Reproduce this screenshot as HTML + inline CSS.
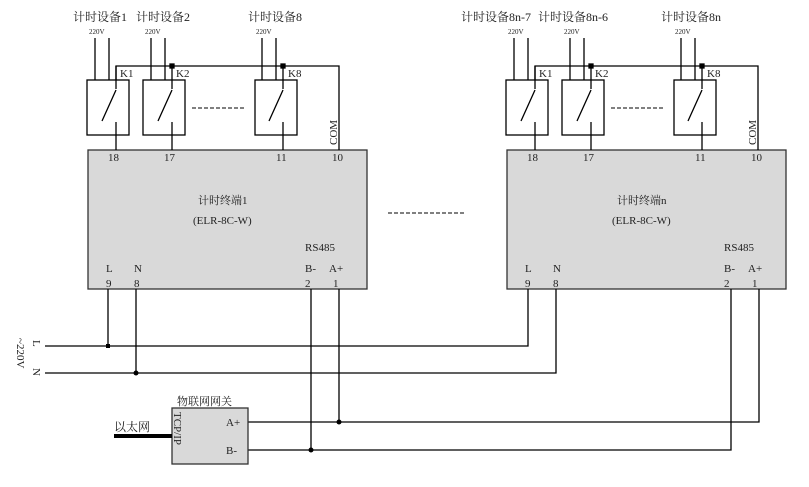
<!DOCTYPE html>
<html><head><meta charset="utf-8"><style>
html,body{margin:0;padding:0;background:#fff}
svg{display:block}
text{font-family:"Liberation Serif","Noto Serif CJK SC",serif;fill:#222}
.c{font-family:"Liberation Sans","Noto Sans CJK SC",sans-serif}
</style></head><body>
<svg width="809" height="487" viewBox="0 0 809 487" xmlns="http://www.w3.org/2000/svg">
<defs>
<g id="mod" stroke="#000" stroke-width="1.3" fill="none">
  <rect x="88" y="150" width="279" height="139" fill="#d9d9d9" stroke="#333"/>
  <polyline points="116,80 116,66 339,66 339,150"/>
  <rect x="87" y="80" width="42" height="55" fill="#fff"/>
  <line x1="95" y1="38" x2="95" y2="80"/><line x1="109" y1="38" x2="109" y2="80"/>
  <line x1="116" y1="66" x2="116" y2="89"/><line x1="116" y1="90" x2="102" y2="121"/><line x1="116" y1="122" x2="116" y2="150"/>
  <rect x="143" y="80" width="42" height="55" fill="#fff"/>
  <line x1="151" y1="38" x2="151" y2="80"/><line x1="165" y1="38" x2="165" y2="80"/>
  <line x1="172" y1="66" x2="172" y2="89"/><line x1="172" y1="90" x2="158" y2="121"/><line x1="172" y1="122" x2="172" y2="150"/>
  <rect x="255" y="80" width="42" height="55" fill="#fff"/>
  <line x1="262" y1="38" x2="262" y2="80"/><line x1="276" y1="38" x2="276" y2="80"/>
  <line x1="283" y1="66" x2="283" y2="89"/><line x1="283" y1="90" x2="269" y2="121"/><line x1="283" y1="122" x2="283" y2="150"/>
  <rect x="170" y="64" width="4" height="4" fill="#000"/>
  <rect x="281" y="64" width="4" height="4" fill="#000"/>
  <line x1="192" y1="108" x2="245" y2="108" stroke-dasharray="4,2" stroke-width="1"/>
  <g stroke="none" fill="#222" font-size="11">
    <text x="108" y="161">18</text><text x="164" y="161">17</text><text x="276" y="161">11</text><text x="332" y="161">10</text>
    <text x="120" y="77">K1</text><text x="176" y="77">K2</text><text x="288" y="77">K8</text>
    <text x="305" y="251">RS485</text>
    <text x="106" y="272">L</text><text x="134" y="272">N</text>
    <text x="106" y="287">9</text><text x="134" y="287">8</text>
    <text x="305" y="272">B-</text><text x="329" y="272">A+</text>
    <text x="305" y="287">2</text><text x="333" y="287">1</text>
    <text x="193" y="224">(ELR-8C-W)</text>
    <text font-size="11" transform="translate(337,145) rotate(-90)">COM</text>
  </g>
</g>
</defs>
<use href="#mod"/>
<use href="#mod" transform="translate(419,0)"/>
<g font-size="7" fill="#444" class="c">
  <text x="89" y="34">220V</text><text x="145" y="34">220V</text><text x="256" y="34">220V</text>
  <text x="508" y="34">220V</text><text x="564" y="34">220V</text><text x="675" y="34">220V</text>
</g>
<g font-size="12" class="c">
  <text x="73" y="21">计时设备1</text><text x="136" y="21">计时设备2</text><text x="248" y="21">计时设备8</text>
  <text x="461" y="21">计时设备8n-7</text><text x="538" y="21">计时设备8n-6</text><text x="661" y="21">计时设备8n</text>
  <text x="198" y="204" font-size="11">计时终端1</text>
  <text x="617" y="204" font-size="11">计时终端n</text>
  <text x="177" y="405" font-size="11">物联网网关</text>
  <text x="114" y="431">以太网</text>
</g>
<g stroke="#000" stroke-width="1.3" fill="none">
  <line x1="388" y1="213" x2="464" y2="213" stroke-dasharray="4,2" stroke-width="1"/>
  <polyline points="45,346 528,346 528,289"/>
  <polyline points="45,373 556,373 556,289"/>
  <line x1="108" y1="289" x2="108" y2="346"/>
  <line x1="136" y1="289" x2="136" y2="373"/>
  <line x1="311" y1="289" x2="311" y2="450"/>
  <line x1="339" y1="289" x2="339" y2="422"/>
  <polyline points="248,422 759,422 759,289"/>
  <polyline points="248,450 731,450 731,289"/>
  <rect x="172" y="408" width="76" height="56" fill="#d9d9d9" stroke="#333"/>
  <line x1="114" y1="436" x2="172" y2="436" stroke-width="4"/>
</g>
<rect x="106" y="344" width="4" height="4" fill="#000"/>
<circle cx="136" cy="373" r="2.5" fill="#000"/>
<circle cx="339" cy="422" r="2.5" fill="#000"/>
<circle cx="311" cy="450" r="2.5" fill="#000"/>
<g font-size="11">
  <text x="226" y="426">A+</text><text x="226" y="454">B-</text>
  <text transform="translate(174,412) rotate(90)">TCP/IP</text>
  <text transform="translate(33,340) rotate(90)">L</text>
  <text transform="translate(33,368) rotate(90)">N</text>
  <text transform="translate(17,338) rotate(90)">~220V</text>
</g>
</svg>
</body></html>
